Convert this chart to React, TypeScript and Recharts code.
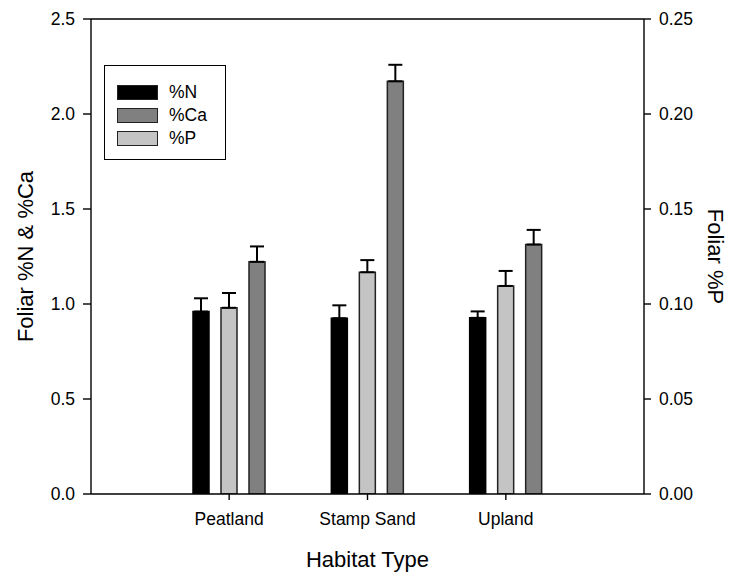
import React from "react";
import {
  BarChart,
  Bar,
  XAxis,
  YAxis,
  ErrorBar,
  Legend,
  ReferenceLine,
  Label,
} from "recharts";

const habitats = ["Peatland", "Stamp Sand", "Upland"];
const nitrogen = [0.96, 0.925, 0.927];
const nitrogenErr = [0.07, 0.068, 0.034];
const phosphorus = [0.098, 0.1167, 0.1095];
const phosphorusErr = [0.0078, 0.0064, 0.0079];
const calcium = [1.222, 2.172, 1.313];
const calciumErr = [0.081, 0.087, 0.077];

const leftTicks = [0, 0.5, 1.0, 1.5, 2.0, 2.5];
const rightTicks = [0, 0.05, 0.1, 0.15, 0.2, 0.25];

const FONT = '"Liberation Sans", Arial, sans-serif';
const N_COLOR = "#000000";
const CA_COLOR = "#808080";
const P_COLOR = "#c4c4c4";

// one-sided (upward) error bars: [below, above]
const rows = habitats.map((h, i) => ({
  habitat: h,
  n: nitrogen[i],
  nErr: [0, nitrogenErr[i]],
  p: phosphorus[i],
  pErr: [0, phosphorusErr[i]],
  ca: calcium[i],
  caErr: [0, calciumErr[i]],
}));

const legendItems = [
  { name: "%N", color: N_COLOR },
  { name: "%Ca", color: CA_COLOR },
  { name: "%P", color: P_COLOR },
];

function LegendBox() {
  return (
    <div
      style={{
        boxSizing: "border-box",
        width: 122,
        height: 95,
        border: "1.5px solid #000",
        background: "#fff",
        paddingTop: 15,
        paddingLeft: 12,
        fontFamily: FONT,
        fontSize: 17.5,
        color: "#000",
      }}
    >
      {legendItems.map((it) => (
        <div
          key={it.name}
          style={{ display: "flex", alignItems: "center", height: 23 }}
        >
          <span
            style={{
              boxSizing: "border-box",
              display: "inline-block",
              width: 41,
              height: 15,
              background: it.color,
              border: "1.5px solid #222",
              marginRight: 11,
            }}
          />
          <span>{it.name}</span>
        </div>
      ))}
    </div>
  );
}

function SideLabel({ viewBox, text, dxFromLeft, angle }: any) {
  const cx = viewBox.x + dxFromLeft;
  const cy = viewBox.y + viewBox.height / 2;
  return (
    <text
      x={cx}
      y={cy}
      transform={`rotate(${angle}, ${cx}, ${cy})`}
      textAnchor="middle"
      dominantBaseline="central"
      fontFamily={FONT}
      fontSize={22}
      fill="#000"
    >
      {text}
    </text>
  );
}

export default function App() {
  const tickStyle = { fontSize: 17.5, fill: "#000", fontFamily: FONT };
  return (
    <div style={{ position: "absolute", left: 0, top: 0, background: "#fff" }}>
      <BarChart
        width={733}
        height={575}
        data={rows}
        margin={{ top: 19, right: 0, bottom: 0, left: 0 }}
        barSize={16}
        barGap={12}
      >
        <XAxis
          dataKey="habitat"
          padding={{ left: 69, right: 69 }}
          height={81}
          stroke="#000"
          strokeWidth={1.4}
          tickSize={6}
          tickMargin={13}
          tick={tickStyle}
          interval={0}
        >
          <Label
            value="Habitat Type"
            position="insideBottom"
            offset={8}
            style={{ fontSize: 22, fill: "#000", fontFamily: FONT }}
          />
        </XAxis>
        <YAxis
          yAxisId="left"
          orientation="left"
          width={91}
          domain={[0, 2.5]}
          ticks={leftTicks}
          tickFormatter={(v: number) => v.toFixed(1)}
          stroke="#000"
          strokeWidth={1.4}
          tickSize={8}
          tickMargin={8}
          tick={tickStyle}
          allowDataOverflow
        >
          <Label
            content={(props: any) => (
              <SideLabel {...props} text="Foliar %N & %Ca" dxFromLeft={25} angle={-90} />
            )}
          />
        </YAxis>
        <YAxis
          yAxisId="right"
          orientation="right"
          width={89}
          domain={[0, 0.25]}
          ticks={rightTicks}
          tickFormatter={(v: number) => v.toFixed(2)}
          stroke="#000"
          strokeWidth={1.4}
          tickSize={7}
          tickMargin={8}
          tick={tickStyle}
          allowDataOverflow
        >
          <Label
            content={(props: any) => (
              <SideLabel {...props} text="Foliar %P" dxFromLeft={71} angle={90} />
            )}
          />
        </YAxis>
        <ReferenceLine yAxisId="left" y={2.5} stroke="#000" strokeWidth={1.4} />
        <Legend
          content={() => <LegendBox />}
          layout="horizontal"
          verticalAlign="middle"
          align="center"
          width={122}
          height={95}
          wrapperStyle={{ left: 104, top: 65, width: 122, height: 95 }}
        />
        <Bar
          yAxisId="left"
          dataKey="n"
          name="%N"
          fill={N_COLOR}
          stroke="#000"
          strokeWidth={1.5}
          isAnimationActive={false}
        >
          <ErrorBar dataKey="nErr" width={7} stroke="#000" strokeWidth={2} direction="y" />
        </Bar>
        <Bar
          yAxisId="right"
          dataKey="p"
          name="%P"
          fill={P_COLOR}
          stroke="#222"
          strokeWidth={1.5}
          isAnimationActive={false}
        >
          <ErrorBar dataKey="pErr" width={7} stroke="#000" strokeWidth={2} direction="y" />
        </Bar>
        <Bar
          yAxisId="left"
          dataKey="ca"
          name="%Ca"
          fill={CA_COLOR}
          stroke="#222"
          strokeWidth={1.5}
          isAnimationActive={false}
        >
          <ErrorBar dataKey="caErr" width={7} stroke="#000" strokeWidth={2} direction="y" />
        </Bar>
      </BarChart>
    </div>
  );
}
